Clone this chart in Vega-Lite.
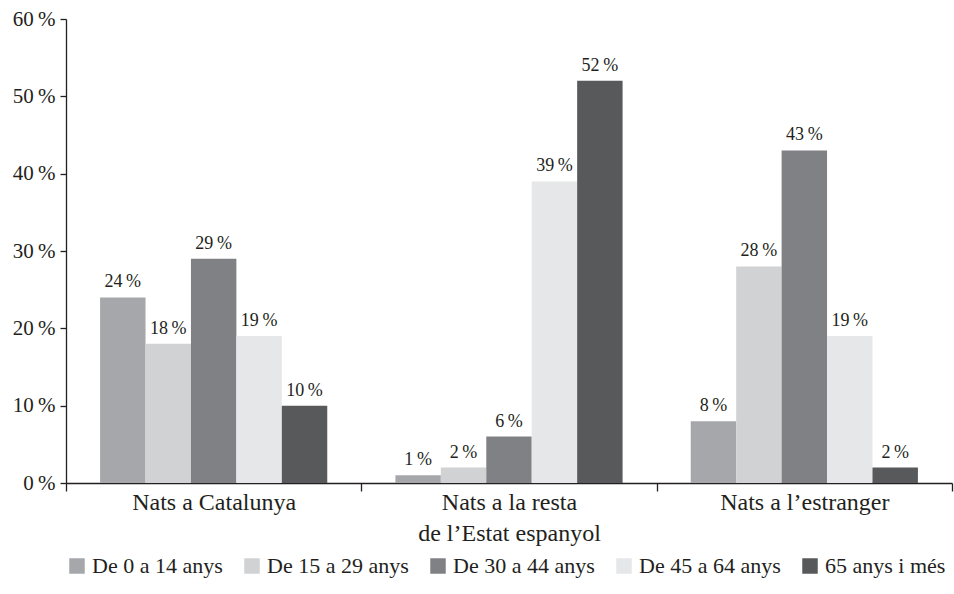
{
  "$schema": "https://vega.github.io/schema/vega-lite/v6.json",
  "width": 886,
  "height": 464,
  "autosize": "none",
  "padding": {"left": 66, "top": 19, "right": 2, "bottom": 111},
  "background": "white",
  "config": {
    "font": "Liberation Serif",
    "view": {"stroke": null},
    "axis": {"labelFont": "Liberation Serif", "labelColor": "#231f20", "domainColor": "#231f20", "tickColor": "#231f20", "domainWidth": 1.3, "tickWidth": 1.3, "grid": false}
  },
  "data": {
    "values": [
      {"origen": "Nats a Catalunya", "edat": "De 0 a 14 anys", "pct": 24},
      {"origen": "Nats a Catalunya", "edat": "De 15 a 29 anys", "pct": 18},
      {"origen": "Nats a Catalunya", "edat": "De 30 a 44 anys", "pct": 29},
      {"origen": "Nats a Catalunya", "edat": "De 45 a 64 anys", "pct": 19},
      {"origen": "Nats a Catalunya", "edat": "65 anys i més", "pct": 10},
      {"origen": "Nats a la resta|de l’Estat espanyol", "edat": "De 0 a 14 anys", "pct": 1},
      {"origen": "Nats a la resta|de l’Estat espanyol", "edat": "De 15 a 29 anys", "pct": 2},
      {"origen": "Nats a la resta|de l’Estat espanyol", "edat": "De 30 a 44 anys", "pct": 6},
      {"origen": "Nats a la resta|de l’Estat espanyol", "edat": "De 45 a 64 anys", "pct": 39},
      {"origen": "Nats a la resta|de l’Estat espanyol", "edat": "65 anys i més", "pct": 52},
      {"origen": "Nats a l’estranger", "edat": "De 0 a 14 anys", "pct": 8},
      {"origen": "Nats a l’estranger", "edat": "De 15 a 29 anys", "pct": 28},
      {"origen": "Nats a l’estranger", "edat": "De 30 a 44 anys", "pct": 43},
      {"origen": "Nats a l’estranger", "edat": "De 45 a 64 anys", "pct": 19},
      {"origen": "Nats a l’estranger", "edat": "65 anys i més", "pct": 2}
    ]
  },
  "encoding": {
    "x": {
      "field": "origen", "type": "nominal", "sort": null,
      "scale": {"paddingInner": 0, "paddingOuter": 0},
      "axis": {"title": null, "labelAngle": 0, "labelFontSize": 24, "labelPadding": -1, "labelLimit": 0, "tickSize": 8, "tickBand": "extent", "labelExpr": "split(datum.label, '|')", "labelLineHeight": 31, "labelBaseline": "top"}
    },
    "xOffset": {
      "field": "edat", "type": "nominal", "sort": null,
      "scale": {"paddingInner": 0, "paddingOuter": 0.75}
    },
    "y": {
      "field": "pct", "type": "quantitative",
      "scale": {"domain": [0, 60], "nice": false},
      "axis": {"title": null, "values": [0, 10, 20, 30, 40, 50, 60], "labelExpr": "datum.value + '\u2009%'", "labelFontSize": 21, "tickSize": 6, "labelPadding": 5}
    }
  },
  "layer": [
    {
      "mark": {"type": "bar"},
      "encoding": {
        "color": {
          "field": "edat", "type": "nominal", "sort": null,
          "scale": {
            "domain": ["De 0 a 14 anys", "De 15 a 29 anys", "De 30 a 44 anys", "De 45 a 64 anys", "65 anys i més"],
            "range": ["#a6a7ab", "#d1d2d4", "#808184", "#e6e7e8", "#58595b"]
          },
          "legend": {
            "title": null, "orient": "bottom", "direction": "horizontal",
            "symbolType": "square", "symbolSize": 240, "symbolStrokeWidth": 0, "symbolOpacity": 1,
            "labelFontSize": 22, "labelLimit": 0, "labelColor": "#231f20", "labelFont": "Liberation Serif",
            "columnPadding": 18, "labelOffset": 4, "offset": 10
          }
        }
      }
    },
    {
      "transform": [{"calculate": "datum.pct + '\u2009%'", "as": "etiqueta"}],
      "mark": {"type": "text", "baseline": "bottom", "dy": -6, "fontSize": 18, "color": "#231f20", "font": "Liberation Serif"},
      "encoding": {
        "text": {"field": "etiqueta", "type": "nominal"}
      }
    }
  ]
}
